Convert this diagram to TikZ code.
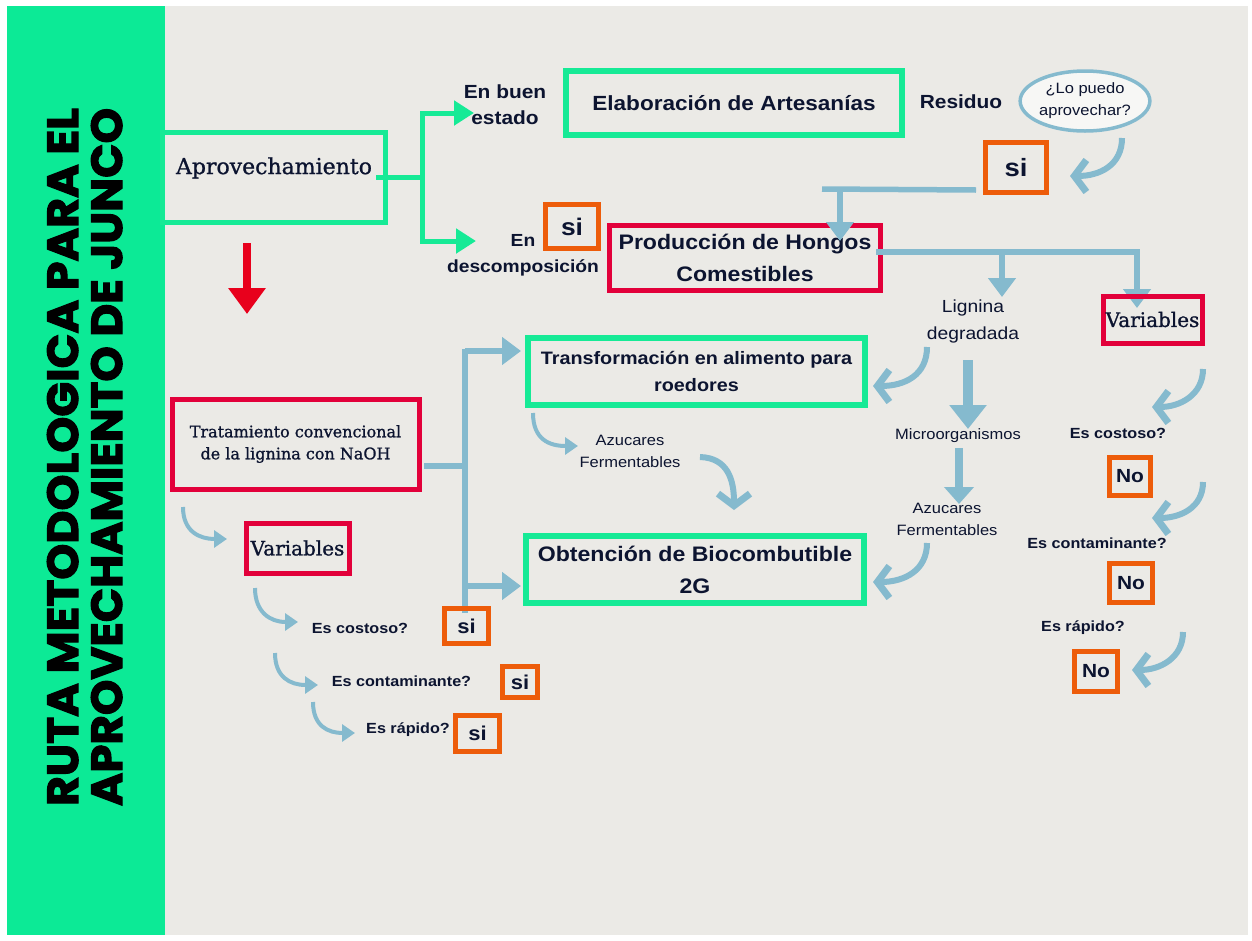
\documentclass[tikz,border=0pt]{standalone}
\usepackage{fontspec}
\usepackage{graphicx}
\usetikzlibrary{arrows.meta,shapes.geometric}
\setmainfont{Liberation Sans}
\newfontfamily\sansf{Liberation Sans}[FakeStretch=1.1]
\newfontfamily\seriff{DejaVu Serif}[FakeBold=1]
\newfontfamily\titlef{Poppins}[BoldFeatures={FakeBold=2.5}]
\definecolor{bg}{RGB}{235,234,230}
\definecolor{band}{RGB}{12,234,150}
\definecolor{boxgreen}{RGB}{22,234,150}
\definecolor{boxred}{RGB}{226,0,58}
\definecolor{boxorange}{RGB}{237,92,10}
\definecolor{bluec}{RGB}{133,186,206}
\definecolor{ink}{RGB}{12,20,48}
\definecolor{redarr}{RGB}{232,0,28}
\newcommand\mySB[2]{\sansf\bfseries\fontsize{#1}{#2}\selectfont}
\newcommand\mySR[2]{\sansf\fontsize{#1}{#2}\selectfont}
\newcommand\mySerif[2]{\seriff\fontsize{#1}{#2}\selectfont}
\begin{document}
\begin{tikzpicture}[x=1pt,y=-1pt,
  every node/.style={inner sep=0pt, outer sep=0pt, text=ink, align=center},
  gbox/.style={draw=boxgreen, line width=6pt},
  rbox/.style={draw=boxred, line width=5pt},
  obox/.style={draw=boxorange, line width=4.5pt},
  gline/.style={draw=boxgreen, line width=5pt},
  garrow/.style={draw=boxgreen, line width=5pt, -{Triangle[length=20pt,width=24pt]}},
  bline/.style={draw=bluec, line width=5.5pt},
  barrow/.style={draw=bluec, line width=5.5pt, -{Triangle[length=19pt,width=27pt]}},
  bcurve/.style={draw=bluec, line width=6pt, -{Straight Barb[length=12pt,width=32pt,line width=7pt]}},
  btri/.style={draw=bluec, line width=4pt, -{Triangle[length=13pt,width=17pt]}},
  redarrow/.style={draw=redarr, line width=8pt, -{Triangle[length=26pt,width=36pt]}}
]
\useasboundingbox (0,0) rectangle (1252,940);
\fill[white] (0,0) rectangle (1252,940);
\fill[bg] (7,6) rectangle (1248,935);
\fill[band] (7,6) rectangle (165,935);

% title
\node[rotate=90, anchor=base west, text=black] (t1) at (78,806) {\resizebox{698pt}{31pt}{\titlef\bfseries RUTA METODOLOGICA PARA EL}};
\node[rotate=90, anchor=base west, text=black] (t2) at (122,806) {\resizebox{698pt}{31pt}{\titlef\bfseries APROVECHAMIENTO DE JUNCO}};

% Aprovechamiento
\node[draw=boxgreen, line width=5pt, minimum width=223pt, minimum height=90pt] (aprov) at (274,177.5) {};
\node[font=\mySerif{22}{26}] (aprovtxt) at (274,168) {Aprovechamiento};
\coordinate (g0) at (376,177);
\coordinate (gj) at (422,177);
\coordinate (gt1) at (474,113);
\coordinate (gt2) at (476,241);
\draw[gline] (g0) -- (gj);
\draw[garrow] (gj) |- (gt1);
\draw[garrow] (gj) |- (gt2);

\node[font=\mySB{19}{26}] (buen) at (505,105) {En buen\\estado};
\node[gbox, minimum width=336pt, minimum height=64pt, font=\mySB{20.5}{26}] (elab) at (734,103) {Elaboración de Artesanías};
\node[font=\mySB{19}{26}] (resid) at (961,102) {Residuo};
\node[ellipse, draw=bluec, line width=3.5pt, fill=white!60!bg, minimum width=127pt, minimum height=60pt, font=\mySR{15}{22}] (lopuedo) at (1085,101) {¿Lo puedo\\aprovechar?};
\node[obox, minimum width=61pt, minimum height=50pt, font=\mySB{25}{28}] (si1) at (1016,167.5) {si};

\coordinate (c1s) at (1122,138);
\coordinate (c1e) at (1070,176);
\draw[bcurve] (c1s) .. controls (1122,165) and (1100,176) .. (c1e);

\node[font=\mySB{17.5}{26}] (desc) at (523,255) {En\\descomposición};
\node[obox, minimum width=53pt, minimum height=44pt, font=\mySB{24}{28}] (si2) at (572,226.5) {si};

\node[rbox, minimum width=271pt, minimum height=65pt, font=\mySB{21}{32}] (prod) at (745,258) {Producción de Hongos\\Comestibles};

\coordinate (h1) at (976,190);
\coordinate (h2) at (822,189);
\coordinate (h3) at (840,189);
\coordinate (h4) at (840,241);
\draw[bline] (h1) -- (h2);
\draw[barrow] (h3) -- (h4);

\coordinate (p1) at (876,252);
\coordinate (p2) at (1140,252);
\coordinate (p3) at (1002,252);
\coordinate (p4) at (1002,297);
\coordinate (p5) at (1137,252);
\coordinate (p6) at (1137,308);
\draw[bline] (p1) -- (p2);
\draw[barrow] (p3) -- (p4);
\draw[barrow] (p5) -- (p6);

\node[font=\mySR{17.5}{27}] (lign) at (973,321.5) {Lignina\\degradada};
\node[rbox, minimum width=99pt, minimum height=47pt, font=\mySerif{20}{22}] (varr) at (1152.5,319.5) {Variables};

\node[gbox, minimum width=337pt, minimum height=67pt, font=\mySB{18}{27}] (trans) at (696.5,371.5) {Transformación en alimento para\\roedores};
\node[gbox, minimum width=338pt, minimum height=67pt, font=\mySB{21}{32}] (obt) at (695,569.5) {Obtención de Biocombutible\\2G};

\node[rbox, minimum width=247pt, minimum height=90pt, font=\mySerif{16}{22}] (trat) at (295.5,444) {Tratamiento convencional\\de la lignina con NaOH};
\node[rbox, minimum width=103pt, minimum height=50pt, font=\mySerif{20}{22}] (varl) at (297.5,548) {Variables};

% tratamiento connectors
\coordinate (vj) at (465,466);
\coordinate (v1) at (465,349);
\coordinate (v2) at (465,613);
\coordinate (va) at (465,351);
\coordinate (vb) at (465,586);
\coordinate (vt1) at (521,351);
\coordinate (vt2) at (521,586);
\draw[bline] ([xshift=5pt]trat.east |- vj) -- (vj);
\draw[bline] (v1) -- (v2);
\draw[barrow] (va) -- (vt1);
\draw[barrow] (vb) -- (vt2);

% red arrow
\coordinate (r1) at (247,243);
\coordinate (r2) at (247,314);
\draw[redarrow] (r1) -- (r2);

% lignina chain
\coordinate (l1) at (927,347);
\coordinate (l2) at (873,386);
\draw[bcurve] (l1) .. controls (927,375) and (905,386) .. (l2);
\coordinate (m1) at (968,360);
\coordinate (m2) at (968,429);
\draw[draw=bluec, line width=10pt, -{Triangle[length=24pt,width=36pt]}] (m1) -- (m2);
\node[font=\mySR{15}{22}] (micro) at (958,436) {Microorganismos};
\coordinate (m3) at (959,448);
\coordinate (m4) at (959,504);
\draw[draw=bluec, line width=8pt, -{Triangle[length=17pt,width=29pt]}] (m3) -- (m4);
\node[font=\mySR{15}{22}] (azr) at (947,519) {Azucares\\Fermentables};
\coordinate (az1) at (927,543);
\coordinate (az2) at (873,582);
\draw[bcurve] (az1) .. controls (927,570) and (905,582) .. (az2);

% left azucares
\node[font=\mySR{15}{22}] (azl) at (630,451) {Azucares\\Fermentables};
\coordinate (tl1) at (533,413);
\coordinate (tl2) at (578,446);
\draw[btri] (tl1) .. controls (533,440) and (550,446) .. (tl2);
\coordinate (al1) at (700,457);
\coordinate (al2) at (734,510);
\draw[bcurve] (al1) .. controls (728,458) and (734,480) .. (al2);

% left column
\coordinate (k1) at (183,507);
\coordinate (k2) at (227,539);
\draw[btri] (k1) .. controls (183,532) and (200,539) .. (k2);
\node[font=\mySB{14.7}{18}] (q1) at (360,628) {Es costoso?};
\node[obox, minimum width=44pt, minimum height=35pt, font=\mySB{20}{24}] (s3) at (466.5,626) {si};
\coordinate (k3) at (255,588);
\coordinate (k4) at (298,622);
\draw[btri] (k3) .. controls (255,612) and (270,622) .. (k4);
\coordinate (k5) at (275,653);
\coordinate (k6) at (318,685);
\draw[btri] (k5) .. controls (275,677) and (290,685) .. (k6);
\node[font=\mySB{14.7}{18}] (q2) at (401.5,681) {Es contaminante?};
\node[obox, minimum width=35pt, minimum height=31pt, font=\mySB{20}{24}] (s4) at (520,682) {si};
\coordinate (k7) at (313,702);
\coordinate (k8) at (355,733);
\draw[btri] (k7) .. controls (313,726) and (328,733) .. (k8);
\node[font=\mySB{14.7}{18}] (q3) at (408,730) {Es rápido?};
\node[obox, minimum width=44pt, minimum height=36pt, font=\mySB{20}{24}] (s5) at (477.5,733.5) {si};

% right column
\coordinate (a1) at (1203,369);
\coordinate (a2) at (1152,407);
\draw[bcurve] (a1) .. controls (1203,395) and (1180,407) .. (a2);
\node[font=\mySB{14.7}{18}] (q4) at (1118,433) {Es costoso?};
\node[obox, minimum width=41pt, minimum height=38pt, font=\mySB{19}{22}] (n1) at (1130,476.5) {No};
\coordinate (a3) at (1203,482);
\coordinate (a4) at (1152,518);
\draw[bcurve] (a3) .. controls (1203,508) and (1180,518) .. (a4);
\node[font=\mySB{14.7}{18}] (q5) at (1097,543) {Es contaminante?};
\node[obox, minimum width=43pt, minimum height=39pt, font=\mySB{19}{22}] (n2) at (1131,583) {No};
\node[font=\mySB{14.7}{18}] (q6) at (1083,628) {Es rápido?};
\coordinate (a5) at (1183,632);
\coordinate (a6) at (1132,670);
\draw[bcurve] (a5) .. controls (1183,658) and (1160,670) .. (a6);
\node[obox, minimum width=43pt, minimum height=40pt, font=\mySB{19}{22}] (n3) at (1096,671.5) {No};
\end{tikzpicture}
\end{document}
